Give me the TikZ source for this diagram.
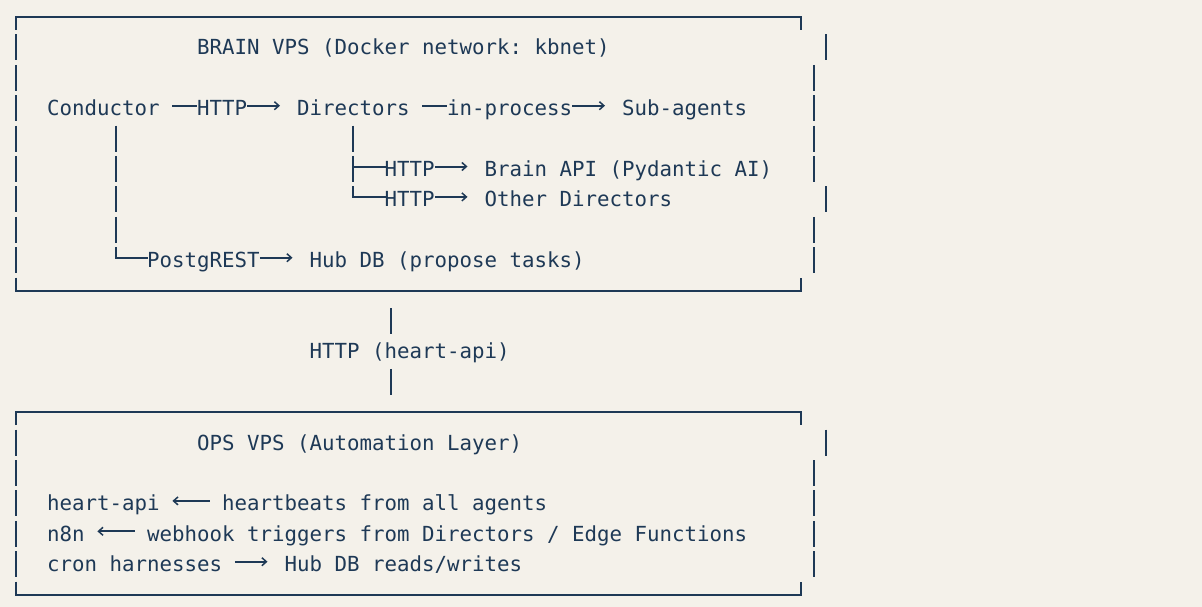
\documentclass[tikz,border=0pt]{standalone}
\usepackage{fontspec}
\setmonofont{DejaVu Sans Mono}
\usetikzlibrary{arrows.meta}
\definecolor{ink}{RGB}{30,57,86}
\definecolor{paper}{RGB}{244,241,234}

\begin{document}
\begin{tikzpicture}[x=1pt,y=-1pt,
  txt/.style={anchor=base west, inner sep=0pt, text height=20pt, text depth=0pt,
              text=ink, font=\ttfamily\fontsize{20.76pt}{24pt}\selectfont},
  ln/.style={draw=ink, line width=2pt},
  tap/.style={ln, line cap=rect},
  vln/.style={ln, dash pattern=on 26pt off 4.4pt},
  arr/.style={ln, -{Straight Barb[length=4.5pt,width=8pt,line width=1.5pt]}},
  larr/.style={ln, {Straight Barb[length=4.5pt,width=8pt,line width=1.5pt]}-},
]
% canvas
\fill[paper] (0,0) rectangle (1202,607);
\useasboundingbox (0,0) rectangle (1202,607);

% ---------------- BRAIN VPS box ----------------
\draw[ln] (16,30) -- (16,17) -- (801,17) -- (801,30);
\draw[vln] (16,34.4) -- (16,273.2);
\draw[ln] (16,277.6) -- (16,290.6) -- (801,290.6) -- (801,277.6);
\draw[ln] (826,34.4) -- (826,60.4);
\draw[vln] (814,64.8) -- (814,182);
\draw[ln] (826,186.4) -- (826,212.4);
\draw[vln] (814,216.8) -- (814,273.2);

\node[txt] (brainT) at (197,54.9) {BRAIN VPS (Docker network: kbnet)};

\node[txt] (cond) at (47,115.7)  {Conductor};
\node[txt] (h1)   at (197,115.7) {HTTP};
\node[txt] (dir)  at (297,115.7) {Directors};
\node[txt] (ip)   at (447,115.7) {in-process};
\node[txt] (sub)  at (622,115.7) {Sub-agents};

\node[txt] (h2)   at (384.5,176.5) {HTTP};
\node[txt] (api)  at (484.5,176.5) {Brain API (Pydantic AI)};
\node[txt] (h3)   at (384.5,206.9) {HTTP};
\node[txt] (odir) at (484.5,206.9) {Other Directors};

\node[txt] (pg)   at (147,267.7)   {PostgREST};
\node[txt] (hub)  at (309.5,267.7) {Hub DB (propose tasks)};

% Conductor -> Directors -> Sub-agents
\draw[ln]  ([xshift=12.5pt]cond.east) -- (h1.west);
\draw[arr] (h1.east) -- ([xshift=-17pt]dir.west);
\draw[ln]  ([xshift=12.5pt]dir.east) -- (ip.west);
\draw[arr] (ip.east) -- ([xshift=-17pt]sub.west);

% Directors fan-out
\coordinate (dtap) at (353.25,125.6);
\draw[vln] (dtap) -- (dtap |- h3.west);
\draw[tap] (dtap |- h2.west) -- (h2.west);
\draw[tap] (dtap |- h3.west) -- (h3.west);
\draw[arr] (h2.east) -- ([xshift=-17pt]api.west);
\draw[arr] (h3.east) -- ([xshift=-17pt]odir.west);

% Conductor -> Hub DB
\coordinate (ctap) at (115.75,125.6);
\draw[vln] (ctap) -- (ctap |- pg.west);
\draw[tap] (ctap |- pg.west) -- (pg.west);
\draw[arr] (pg.east) -- ([xshift=-17pt]hub.west);

% ---------------- link between the hosts ----------------
\coordinate (upA) at (390.75,308);
\coordinate (upB) at (390.75,334);
\coordinate (dnA) at (390.75,368.8);
\coordinate (dnB) at (390.75,394.8);
\node[txt] (link) at (309.5,358.9) {HTTP (heart-api)};
\draw[ln] (upA) -- (upB);
\draw[ln] (dnA) -- (dnB);

% ---------------- OPS VPS box ----------------
\draw[ln] (16,425.2) -- (16,412.2) -- (801,412.2) -- (801,425.2);
\draw[vln] (16,429.6) -- (16,577.2);
\draw[ln] (16,581.6) -- (16,594.6) -- (801,594.6) -- (801,581.6);
\draw[ln] (826,429.6) -- (826,455.6);
\draw[vln] (814,460) -- (814,577.2);

\node[txt] (opsT) at (197,450.1) {OPS VPS (Automation Layer)};

\node[txt] (ha)   at (47,510.9)    {heart-api};
\node[txt] (hb)   at (222,510.9)   {heartbeats from all agents};
\node[txt] (n8n)  at (47,541.3)    {n8n};
\node[txt] (wh)   at (147,541.3)   {webhook triggers from Directors / Edge Functions};
\node[txt] (cron) at (47,571.7)    {cron harnesses};
\node[txt] (rw)   at (284.5,571.7) {Hub DB reads/writes};

\draw[larr] ([xshift=12.5pt]ha.east) -- ([xshift=-12.5pt]hb.west);
\draw[larr] ([xshift=12.5pt]n8n.east) -- ([xshift=-12.5pt]wh.west);
\draw[arr]  ([xshift=12.5pt]cron.east) -- ([xshift=-17pt]rw.west);
\end{tikzpicture}
\end{document}
